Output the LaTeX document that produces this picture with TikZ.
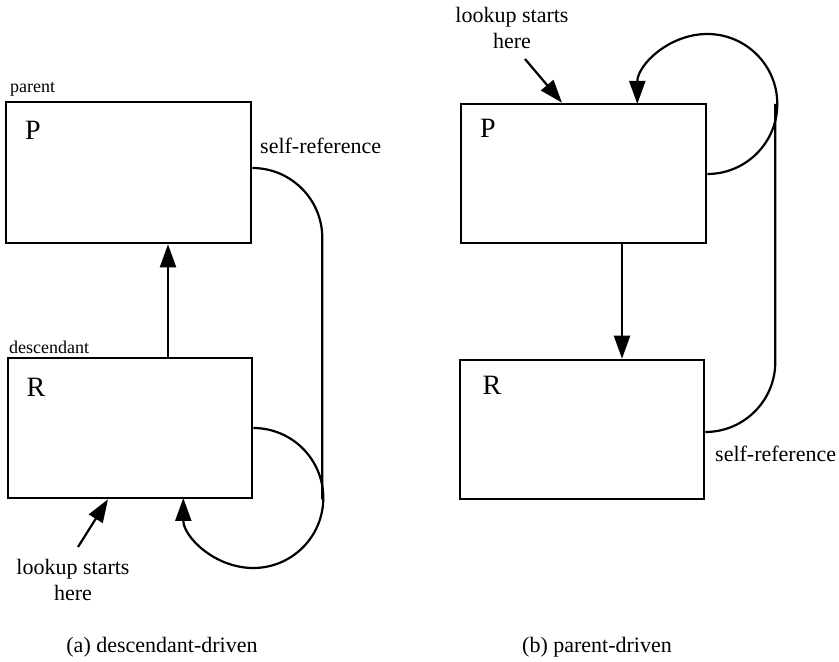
\documentclass[tikz,border=0pt]{standalone}
\usepackage{fontspec}
\setmainfont{Liberation Serif}
\usetikzlibrary{arrows.meta}
\begin{document}
\begin{tikzpicture}[x=1pt,y=1pt,
  box/.style={draw, line width=2.6pt, inner sep=0pt},
  conn/.style={line width=2.2pt},
  arr/.style={conn, -{Triangle[length=23pt,width=16pt]}},
  lbl/.style={inner sep=0pt, font=\fontsize{22}{26}\selectfont},
  small/.style={inner sep=0pt, font=\fontsize{18}{21}\selectfont},
  big/.style={inner sep=0pt, font=\fontsize{28}{32}\selectfont}]
\useasboundingbox (0,0) rectangle (839,662);
% ---------- (a) ----------
\node[box, minimum width=245pt, minimum height=141pt] (P1) at (128.5,489.5) {};
\node[box, minimum width=244pt, minimum height=140pt] (R1) at (130,234) {};
\node[small, anchor=west] (parent) at (10,573) {parent};
\node[small, anchor=west] (desc) at (9,315) {descendant};
\node[big] (Pa) at (33,532) {P};
\node[big] (Ra) at (36,275) {R};
\node[lbl, anchor=west] (srefa) at (260,516) {self-reference};
\node[lbl, align=center] (lka) at (73,82) {lookup starts\\here};
\node[lbl] (capa) at (162,15) {(a) descendant-driven};
\coordinate (xa) at (168,0);
\coordinate (ya) at (0,494);
\coordinate (yb) at (0,234);
\coordinate (lka1) at (78,115);
\coordinate (xl) at (108,0);
\draw[arr] (R1.north -| xa) -- (P1.south -| xa);
\draw[conn] (P1.east |- ya) arc[start angle=90, end angle=0, radius=70pt] coordinate (va) -- (va |- R1.south);
\draw[arr] (R1.east |- yb) arc[start angle=90, end angle=-180, radius=70pt];
\draw[arr] (lka1) -- (R1.south -| xl);
% ---------- (b) ----------
\node[box, minimum width=245pt, minimum height=139pt] (P2) at (583.5,488.5) {};
\node[box, minimum width=244pt, minimum height=139pt] (R2) at (582,232.5) {};
\node[big] (Pb) at (488,534) {P};
\node[big] (Rb) at (492,277) {R};
\node[lbl, anchor=west] (srefb) at (715,208) {self-reference};
\node[lbl, align=center] (lkb) at (512,634) {lookup starts\\here};
\node[lbl] (capb) at (597,15) {(b) parent-driven};
\coordinate (xb) at (622,0);
\coordinate (yc) at (0,488);
\coordinate (yd) at (0,230);
\coordinate (lkb1) at (525,603);
\coordinate (xm) at (562,0);
\draw[arr] (P2.south -| xb) -- (R2.north -| xb);
\draw[arr] (P2.east |- yc) arc[start angle=-90, end angle=180, radius=70pt];
\draw[conn] (R2.east |- yd) arc[start angle=-90, end angle=0, radius=70pt] coordinate (vb) -- ++(0,258);
\draw[arr] (lkb1) -- (P2.north -| xm);
\end{tikzpicture}
\end{document}
